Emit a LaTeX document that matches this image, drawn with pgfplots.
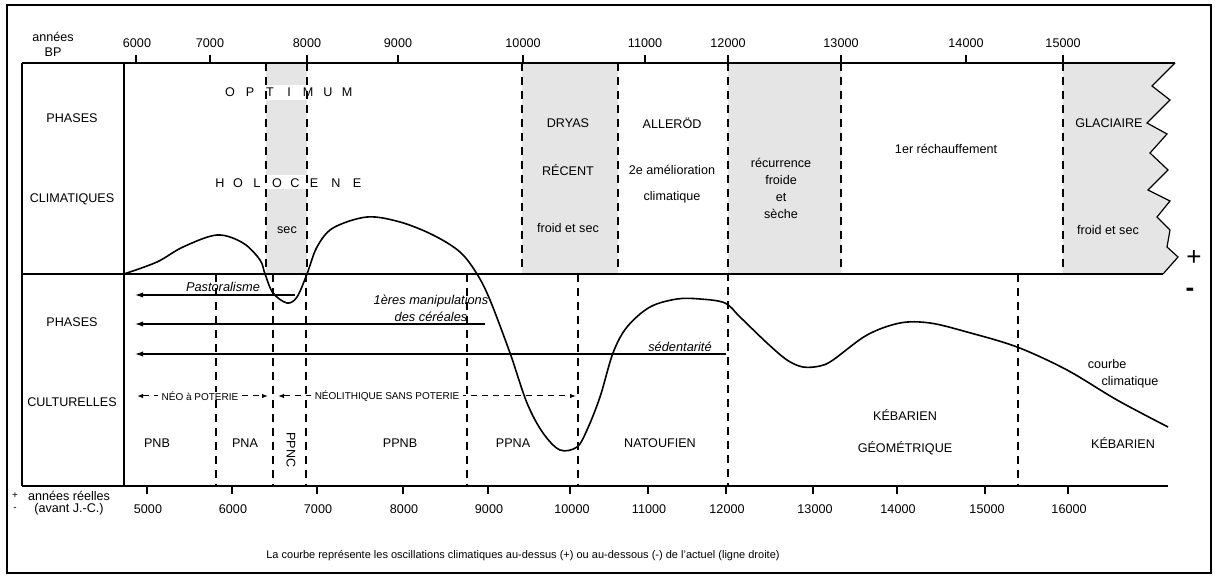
\documentclass[border=0pt]{standalone}
\usepackage{pgfplots}
\pgfplotsset{compat=1.18}
\usepackage{fontspec}
\setmainfont{Liberation Sans}
\usetikzlibrary{arrows.meta}
\definecolor{phasegray}{gray}{0.9}

\tikzset{
  lab/.style={font=\fontsize{6.3}{7}\selectfont, inner sep=0pt},
  sml/.style={font=\fontsize{5}{6}\selectfont, inner sep=0pt},
  it/.style={font=\fontsize{6.4}{7}\selectfont\itshape, inner sep=0pt},
  dsh/.style={line width=0.7pt, dash pattern=on 4pt off 3pt},
  arr/.style={line width=0.6pt, -{Latex[length=4pt,width=2.6pt]}},
}

\begin{document}
\begin{tikzpicture}
\begin{axis}[
  scale only axis, width=607.5pt, height=288pt,
  xmin=0, xmax=1215, ymin=0, ymax=576, y dir=reverse,
  hide axis, clip=false,
]
% page extent
\path (0,0) rectangle (1215,576);

% shaded phases
\fill[phasegray] (266,63) rectangle (307,85);
\fill[phasegray] (266,100) rectangle (307,175);
\fill[phasegray] (266,189) rectangle (307,274);
\fill[phasegray] (522,63) rectangle (618,274);
\fill[phasegray] (728,63) rectangle (841,274);
\fill[phasegray] (1063,63) -- (1175,63) -- (1152,86) -- (1170,100) -- (1147,123) -- (1167,134)
  -- (1150,153) -- (1168,170) -- (1148,190) -- (1170,201) -- (1157,217) -- (1170,230)
  -- (1167,247) -- (1178,257) -- (1163,274) -- (1063,274) -- cycle;

% frames
\draw[line width=1.1pt] (7,5) rectangle (1211,573);
\draw[line width=0.7pt] (22,63) -- (1175,63);
\draw[line width=0.7pt] (22,274) -- (1163,274);
\draw[line width=0.7pt] (22,486) -- (1168,486);
\draw[line width=0.7pt] (22,63) -- (22,486);
\draw[line width=0.7pt] (124,63) -- (124,486);
\draw[line width=0.6pt] (1175,63) -- (1152,86) -- (1170,100) -- (1147,123) -- (1167,134)
  -- (1150,153) -- (1168,170) -- (1148,190) -- (1170,201) -- (1157,217) -- (1170,230)
  -- (1167,247) -- (1178,257) -- (1163,274);

% dashed separators
\draw[dsh] (266,63) -- (266,274);
\draw[dsh] (307,63) -- (307,274);
\draw[dsh] (522,63) -- (522,274);
\draw[dsh] (618,63) -- (618,274);
\draw[dsh] (728,63) -- (728,486);
\draw[dsh] (841,63) -- (841,274);
\draw[dsh] (1063,63) -- (1063,274);
\draw[dsh] (216,274) -- (216,486);
\draw[dsh] (273,274) -- (273,486);
\draw[dsh] (306,274) -- (306,486);
\draw[dsh] (467,274) -- (467,486);
\draw[dsh] (578,274) -- (578,486);
\draw[dsh] (1018,274) -- (1018,486);

% top scale: annees BP
\node[lab] at (53,37) {années};
\node[lab] at (53,52) {BP};
\draw[line width=0.6pt] (136,55) -- (136,63);   \node[lab] at (137,43) {6000};
\draw[line width=0.6pt] (210,55) -- (210,63);   \node[lab] at (210,43) {7000};
\draw[line width=0.6pt] (307,55) -- (307,63);   \node[lab] at (307,43) {8000};
\draw[line width=0.6pt] (398,55) -- (398,63);   \node[lab] at (398,43) {9000};
\draw[line width=0.6pt] (523,55) -- (523,63);   \node[lab] at (523,43) {10000};
\draw[line width=0.6pt] (645,55) -- (645,63);   \node[lab] at (645,43) {11000};
\draw[line width=0.6pt] (728,55) -- (728,63);   \node[lab] at (728,43) {12000};
\draw[line width=0.6pt] (841,55) -- (841,63);   \node[lab] at (841,43) {13000};
\draw[line width=0.6pt] (966,55) -- (966,63);   \node[lab] at (966,43) {14000};
\draw[line width=0.6pt] (1063,55) -- (1063,63); \node[lab] at (1063,43) {15000};

% bottom scale: annees reelles
\node[sml] at (15,496) {+};
\node[sml] at (15,509) {-};
\node[lab] at (69,496) {années réelles};
\node[lab] at (69,509) {(avant J.-C.)};
\draw[line width=0.6pt] (147,486) -- (147,494);  \node[lab] at (148,509) {5000};
\draw[line width=0.6pt] (232,486) -- (232,494);  \node[lab] at (233,509) {6000};
\draw[line width=0.6pt] (317,486) -- (317,494);  \node[lab] at (318,509) {7000};
\draw[line width=0.6pt] (403,486) -- (403,494);  \node[lab] at (404,509) {8000};
\draw[line width=0.6pt] (488,486) -- (488,494);  \node[lab] at (489,509) {9000};
\draw[line width=0.6pt] (570,486) -- (570,494);  \node[lab] at (572,509) {10000};
\draw[line width=0.6pt] (648,486) -- (648,494);  \node[lab] at (649,509) {11000};
\draw[line width=0.6pt] (726,486) -- (726,494);  \node[lab] at (727,509) {12000};
\draw[line width=0.6pt] (813,486) -- (813,494);  \node[lab] at (815,509) {13000};
\draw[line width=0.6pt] (897,486) -- (897,494);  \node[lab] at (898,509) {14000};
\draw[line width=0.6pt] (985,486) -- (985,494);  \node[lab] at (987,509) {15000};
\draw[line width=0.6pt] (1068,486) -- (1068,494); \node[lab] at (1069,509) {16000};

% row headers
\node[lab] at (72,118) {PHASES};
\node[lab] at (72,199) {CLIMATIQUES};
\node[lab] at (72,322) {PHASES};
\node[lab] at (72,402) {CULTURELLES};

% climatic phases
\node[lab] at (230,92) {O}; \node[lab] at (250,92) {P}; \node[lab] at (270,92) {T};
\node[lab] at (289,92) {I}; \node[lab] at (308,92) {M}; \node[lab] at (328,92) {U};
\node[lab] at (347,92) {M};
\node[lab] at (220,183) {H}; \node[lab] at (238,183) {O}; \node[lab] at (257,183) {L};
\node[lab] at (277,183) {O}; \node[lab] at (295,183) {C}; \node[lab] at (314,183) {E};
\node[lab] at (336,183) {N}; \node[lab] at (357,183) {E};
\node[lab] at (287,230) {sec};
\node[lab] at (568,123) {DRYAS};
\node[lab] at (568,170) {RÉCENT};
\node[lab] at (568,228) {froid et sec};
\node[lab] at (672,123) {ALLERÖD};
\node[lab] at (672,170) {2e amélioration};
\node[lab] at (672,197) {climatique};
\node[lab] at (781,163) {récurrence};
\node[lab] at (781,180) {froide};
\node[lab] at (781,197) {et};
\node[lab] at (781,214) {sèche};
\node[lab] at (946,149) {1er réchauffement};
\node[lab, anchor=east] at (1143,123) {GLACIAIRE};
\node[lab] at (1108,230) {froid et sec};
\node[font=\fontsize{13}{13}\selectfont, inner sep=0pt] at (1194,258) {+};
\node[font=\fontsize{13}{13}\selectfont\bfseries, inner sep=0pt] at (1190,292) {-};

% cultural phases
\draw[arr] (295,295) -- (135,295);
\node[it] at (223,287) {Pastoralisme};
\draw[arr] (485,324) -- (135,324);
\node[it] at (431,301) {1ères manipulations};
\node[it] at (431,317) {des céréales};
\draw[arr] (726,354) -- (135,354);
\node[it] at (680,347) {sédentarité};

\draw[dsh, line width=0.5pt, dash pattern=on 3pt off 2.5pt,
  {Latex[length=3pt,width=2.2pt]}-{Latex[length=3pt,width=2.2pt]}] (137,396) -- (268,396);
\node[sml, fill=white, inner xsep=2pt] at (200,396) {NÉO à POTERIE};
\draw[dsh, line width=0.5pt, dash pattern=on 3pt off 2.5pt,
  {Latex[length=3pt,width=2.2pt]}-{Latex[length=3pt,width=2.2pt]}] (278,396) -- (576,396);
\node[sml, fill=white, inner xsep=2pt] at (387,396) {NÉOLITHIQUE SANS POTERIE};

\node[lab] at (157,443) {PNB};
\node[lab] at (245,443) {PNA};
\node[lab, rotate=-90] at (291,450) {PPNC};
\node[lab] at (400,443) {PPNB};
\node[lab] at (513,443) {PPNA};
\node[lab] at (660,443) {NATOUFIEN};
\node[lab] at (905,415) {KÉBARIEN};
\node[lab] at (905,448) {GÉOMÉTRIQUE};
\node[lab] at (1123,443) {KÉBARIEN};
\node[lab] at (1107,364) {courbe};
\node[lab] at (1130,382) {climatique};

% climatic curve
\addplot[smooth, tension=0.55, line width=0.8pt] coordinates {
  (124,274) (157,262) (183,247) (217,235) (243,243) (260,260) (265,274)
  (273,293) (287,303) (297,297) (307,274) (317,247) (333,228) (367,217)
  (400,222) (433,235) (460,252) (477,274) (490,300) (510,353) (527,403)
  (543,433) (560,450) (577,447) (587,430) (600,397) (613,353) (627,327)
  (650,307) (677,299) (700,299) (725,303) (740,317) (767,343) (787,360)
  (803,367) (820,366) (833,360) (867,335) (900,323) (930,323) (967,332)
  (1017,347) (1067,370) (1117,400) (1168,427)
};

% caption
\node[font=\fontsize{5.5}{7}\selectfont, inner sep=0pt] at (523,556) {La courbe représente les oscillations climatiques au-dessus (+) ou au-dessous (-) de l'actuel (ligne droite)};
\end{axis}
\end{tikzpicture}
\end{document}
